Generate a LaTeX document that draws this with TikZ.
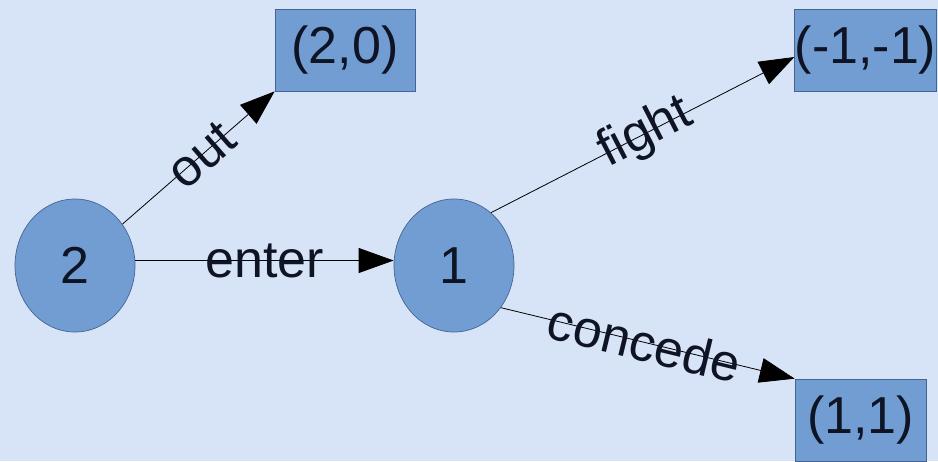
\documentclass[tikz,border=0pt]{standalone}
\usepackage{fontspec}
\setmainfont{Liberation Sans}
\usetikzlibrary{shapes.geometric,arrows.meta}
\definecolor{bgblue}{RGB}{215,227,246}
\definecolor{nodeblue}{RGB}{114,157,211}
\definecolor{edgeblue}{RGB}{70,100,145}
\definecolor{inkc}{RGB}{14,20,36}
\tikzset{
  statenode/.style={ellipse,draw=edgeblue,line width=0.7pt,fill=nodeblue,minimum width=120pt,minimum height=133pt,inner sep=0pt,text=inkc,font=\fontsize{52}{62}\selectfont},
  payoff/.style={rectangle,draw=edgeblue,line width=0.7pt,fill=nodeblue,minimum width=140pt,minimum height=82pt,inner sep=0pt,text=inkc,font=\fontsize{52}{62}\selectfont},
  movearrow/.style={draw=black,line width=0.8pt,-{Triangle[length=35pt,width=25pt]}},
  movelabel/.style={sloped,inner sep=0pt,text=inkc,font=\fontsize{52}{62}\selectfont}
}
\begin{document}
\begin{tikzpicture}[x=1pt,y=-1pt]
\fill[bgblue] (0,0) rectangle (938,461);
\useasboundingbox (0,0) rectangle (938,461);
\node[statenode] (c2) at (75,265.5) {2};
\node[statenode] (c1) at (454,265.5) {1};
\node[payoff] (b20) at (345,50) {\raisebox{-4pt}{(2,0)}};
\node[payoff] (bm1) at (865.5,50) {\raisebox{-4pt}{(-1,-1)}};
\node[payoff,minimum width=131pt] (b11) at (860.5,420) {\raisebox{-4pt}{(1,1)}};
\draw[movearrow] (c2) -- (b20.south west) node[movelabel,pos=0.52] {out};
\draw[movearrow] ([yshift=5pt]c2.east) -- ([yshift=5pt]c1.west) node[movelabel,pos=0.5] {enter};
\draw[movearrow] (c1.55) -- ([yshift=-7pt]bm1.west) node[movelabel,pos=0.51] {fight};
\draw[movearrow] (c1.-42) -- (b11.north west) node[movelabel,pos=0.49] {concede};
\end{tikzpicture}
\end{document}
